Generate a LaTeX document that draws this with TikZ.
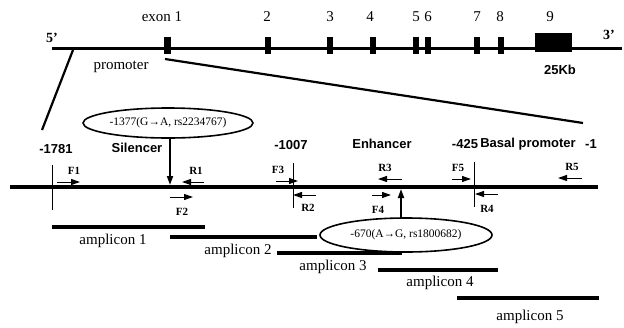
\documentclass[tikz,border=0pt]{standalone}
\usepackage{fontspec}
\setmainfont{Liberation Serif}
\newfontfamily\arialfont{Liberation Sans}
\usetikzlibrary{arrows.meta,shapes.geometric}
\tikzset{
  exonbox/.style={rectangle,fill=black,draw=none,inner sep=0,minimum width=7,minimum height=17},
  serlab/.style={font=\fontsize{15}{15}\selectfont,inner sep=0},
  sanslab/.style={font=\arialfont\bfseries\fontsize{13}{13}\selectfont,inner sep=0},
  endlab/.style={font=\bfseries\fontsize{14}{14}\selectfont,inner sep=0},
  primlab/.style={font=\bfseries\fontsize{11}{11}\selectfont,inner sep=0},
  primer/.style={line width=1pt,-{Triangle[length=9pt,width=6pt]}},
  snparrow/.style={line width=1.8pt,-{Triangle[length=9pt,width=6pt]}},
  snpbox/.style={ellipse,draw,line width=1.6pt,fill=white,inner sep=0,font=\fontsize{11.5}{11.5}\selectfont},
  amp/.style={line width=4pt},
  tick/.style={line width=0.9pt}
}
\begin{document}
\begin{tikzpicture}[x=1pt,y=-1pt]
\useasboundingbox (0,0) rectangle (624,327);
% gene
\coordinate (g5) at (52,48);
\coordinate (g3) at (622,48);
\draw[line width=3pt] (g5) -- (g3);
\node[endlab] (l5) at (52,38) {5’};
\node[endlab] (l3) at (609,35) {3’};
\node[exonbox] (e1) at (167,45) {};
\node[exonbox,minimum width=6] (e2) at (268,45) {};
\node[exonbox,minimum width=6] (e3) at (330,45) {};
\node[exonbox,minimum width=6] (e4) at (373,45) {};
\node[exonbox,minimum width=6] (e5) at (416,45) {};
\node[exonbox,minimum width=6] (e6) at (428,45) {};
\node[exonbox,minimum width=6] (e7) at (477,45) {};
\node[exonbox,minimum width=6] (e8) at (501,45) {};
\node[rectangle,fill=black,inner sep=0,minimum width=37,minimum height=19] (e9) at (553.5,42.5) {};
\node[serlab] (t1) at (162,17) {exon 1};
\node[serlab] (t2) at (267,17) {2};
\node[serlab] (t3) at (330,17) {3};
\node[serlab] (t4) at (370,17) {4};
\node[serlab] (t5) at (416,17) {5};
\node[serlab] (t6) at (428,17) {6};
\node[serlab] (t7) at (477,17) {7};
\node[serlab] (t8) at (500,17) {8};
\node[serlab] (t9) at (550,17) {9};
\node[serlab] (prom) at (121,67) {promoter};
\node[sanslab] (kb) at (560,70) {25Kb};
% zoom lines
\coordinate (z1a) at (73,50);
\coordinate (z1b) at (42,130);
\coordinate (z2a) at (165,59);
\coordinate (z2b) at (583,123);
\draw[line width=2.2pt] (z1a) -- (z1b);
\draw[line width=2.2pt] (z2a) -- (z2b);
% promoter line
\coordinate (pl) at (10,187);
\coordinate (pr) at (598,187);
\draw[line width=4.5pt] (pl) -- (pr);
\coordinate (k1a) at (52,165); \coordinate (k1b) at (52,210);
\coordinate (k2a) at (293,163); \coordinate (k2b) at (293,208);
\coordinate (k3a) at (474,162); \coordinate (k3b) at (474,207);
\draw[tick] (k1a) -- (k1b);
\draw[tick] (k2a) -- (k2b);
\draw[tick] (k3a) -- (k3b);
\node[sanslab] (p1781) at (56,149) {-1781};
\node[sanslab] (sil) at (137,148) {Silencer};
\node[sanslab] (p1007) at (291,145) {-1007};
\node[sanslab] (enh) at (382,144) {Enhancer};
\node[sanslab] (p425) at (465,144) {-425};
\node[sanslab] (bas) at (528,144) {Basal promoter};
\node[sanslab] (p1) at (591,144) {-1};
% primers
\coordinate (F1a) at (57,182); \coordinate (F1b) at (80,182);
\coordinate (R1a) at (204,182); \coordinate (R1b) at (182,182);
\coordinate (F2a) at (170,197); \coordinate (F2b) at (193,197);
\coordinate (F3a) at (276,181); \coordinate (F3b) at (298,181);
\coordinate (R2a) at (316,195); \coordinate (R2b) at (293,195);
\coordinate (R3a) at (402,179); \coordinate (R3b) at (378,179);
\coordinate (F4a) at (372,195); \coordinate (F4b) at (391,195);
\coordinate (F5a) at (452,179); \coordinate (F5b) at (471,179);
\coordinate (R4a) at (498,194); \coordinate (R4b) at (475,194);
\coordinate (R5a) at (582,178); \coordinate (R5b) at (558,178);
\foreach \p in {F1,R1,F2,F3,R2,R3,F4,F5,R4,R5}
  \draw[primer] (\p a) -- (\p b);
\node[primlab] (lF1) at (74,171) {F1};
\node[primlab] (lR1) at (196,171) {R1};
\node[primlab] (lF2) at (182,212) {F2};
\node[primlab] (lF3) at (278,170) {F3};
\node[primlab] (lR2) at (308,208) {R2};
\node[primlab] (lR3) at (385,168) {R3};
\node[primlab] (lF4) at (378,210) {F4};
\node[primlab] (lF5) at (458,168) {F5};
\node[primlab] (lR4) at (487,209) {R4};
\node[primlab] (lR5) at (572,167) {R5};
% amplicons
\coordinate (a1a) at (52,227); \coordinate (a1b) at (205,227);
\coordinate (a2a) at (170,237); \coordinate (a2b) at (317,237);
\coordinate (a3a) at (277,253); \coordinate (a3b) at (402,253);
\coordinate (a4a) at (378,270); \coordinate (a4b) at (498,270);
\coordinate (a5a) at (457,298); \coordinate (a5b) at (599,298);
\foreach \a in {a1,a2,a3,a4,a5}
  \draw[amp] (\a a) -- (\a b);
\node[serlab] (am1) at (113,241) {amplicon 1};
\node[serlab] (am2) at (238,251) {amplicon 2};
\node[serlab] (am3) at (333,267) {amplicon 3};
\node[serlab] (am4) at (440,283) {amplicon 4};
\node[serlab] (am5) at (530,317) {amplicon 5};
% SNPs
\node[snpbox,minimum width=170,minimum height=30] (snp1) at (168,123) {-1377(G→A, rs2234767)};
\coordinate (s1t) at (170,185);
\draw[snparrow] (snp1.south -| s1t) -- (s1t);
\node[snpbox,minimum width=172,minimum height=34] (snp2) at (406,235) {-670(A→G, rs1800682)};
\coordinate (s2t) at (401,189);
\draw[snparrow] (s2t |- snp2.north) -- (s2t);
\end{tikzpicture}
\end{document}
